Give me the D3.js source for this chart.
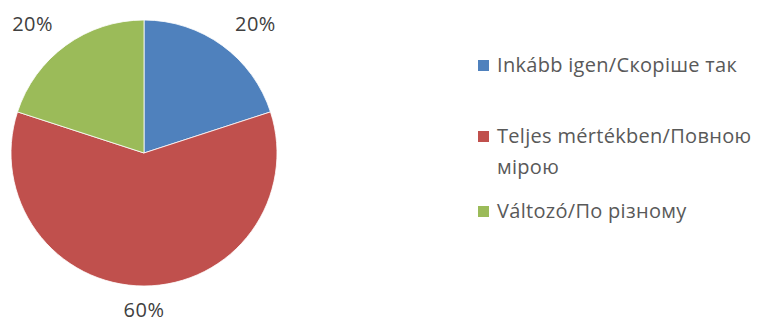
<!DOCTYPE html>
<html>
<head>
<meta charset="utf-8">
<script src="https://cdn.jsdelivr.net/npm/d3@7/dist/d3.min.js"></script>
<style>
  html, body { margin: 0; padding: 0; background: #fff; }
  svg { display: block; }
  text { font-family: "Open Sans", Lato, sans-serif; }
</style>
</head>
<body>
<svg id="chart" width="760" height="322"></svg>
<script>
// Answer shares (percent)
const categories = ["Inkább igen/Скоріше так", "Teljes mértékben/Повною мірою", "Változó/По різному"];
const values = [20, 60, 20];
const colors = ["#4F81BD", "#C0504D", "#9BBB59"];
// Legend lines (long labels wrap onto a second line)
const legendLines = [["Inkább igen/Скоріше так"], ["Teljes mértékben/Повною", "мірою"], ["Változó/По різному"]];

const svg = d3.select("#chart");
const cx = 144, cy = 153, r = 133;

const pie = d3.pie().sort(null).value(d => d)(values);
const arc = d3.arc().innerRadius(0).outerRadius(r);

const g = svg.append("g").attr("transform", `translate(${cx},${cy})`);
g.selectAll("path")
  .data(pie)
  .join("path")
  .attr("d", arc)
  .attr("fill", (d, i) => colors[i])
  .attr("stroke", "#fff")
  .attr("stroke-width", 0.8);

// Percent labels just outside the rim; the label box is pushed away from the pie
const labelR = r + 14;
const boxW = 50, boxH = 20;
const total = d3.sum(values);
g.selectAll("text.pct")
  .data(pie)
  .join("text")
  .attr("class", "pct")
  .attr("transform", d => {
    const a = (d.startAngle + d.endAngle) / 2;
    const s = Math.sin(a), c = -Math.cos(a);
    const x = labelR * s + (Math.abs(s) > 0.1 ? Math.sign(s) * boxW / 2 : 0);
    const y = labelR * c + (Math.abs(c) > 0.1 ? Math.sign(c) * boxH / 2 : 0);
    return `translate(${x},${y})`;
  })
  .attr("text-anchor", "middle")
  .attr("dy", "0.35em")
  .attr("font-size", 20)
  .attr("letter-spacing", 0.5)
  .attr("fill", "#404040")
  .text(d => Math.round(d.value / total * 100) + "%");

// Legend
const legendY = [72, 143, 218];
const lg = svg.append("g");
categories.forEach((c, i) => {
  lg.append("rect")
    .attr("x", 478).attr("y", legendY[i] - 12)
    .attr("width", 11).attr("height", 11)
    .attr("fill", colors[i]);
  const t = lg.append("text")
    .attr("x", 497).attr("y", legendY[i])
    .attr("font-size", 20)
    .attr("letter-spacing", 0.3)
    .attr("fill", "#595959");
  legendLines[i].forEach((line, j) => {
    t.append("tspan").attr("x", 497).attr("dy", j === 0 ? 0 : 31).text(line);
  });
});
</script>
</body>
</html>
